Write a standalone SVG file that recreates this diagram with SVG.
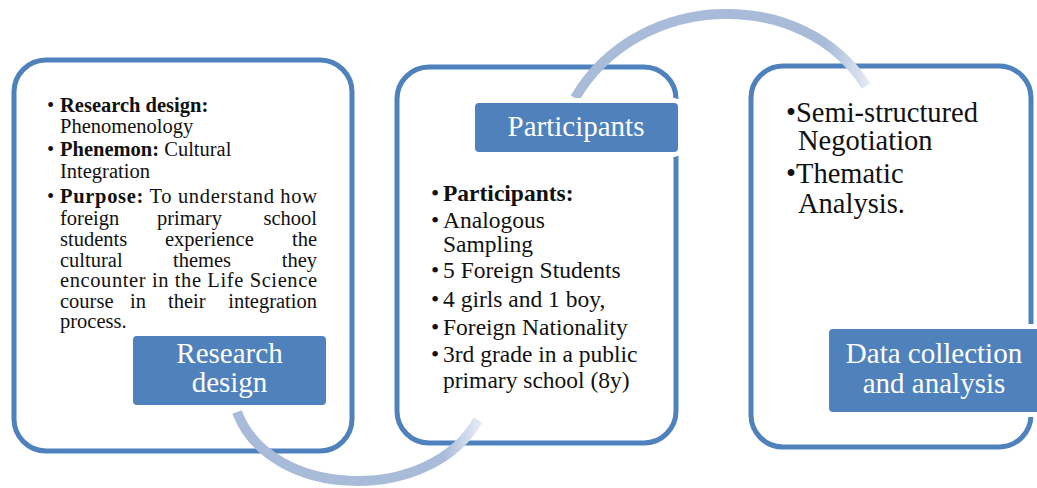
<svg xmlns="http://www.w3.org/2000/svg" width="1037" height="488" viewBox="0 0 1037 488">
  <style>
    .frame { fill: none; stroke: #4f81bd; stroke-width: 5; }
    .tag { fill: #4f81bd; stroke: #ffffff; stroke-width: 10; paint-order: stroke; }
    .tagtxt { font-family: "Liberation Serif", "Times New Roman", serif; font-size: 29px; fill: #ffffff; text-anchor: middle; }
    .body { font-family: "Liberation Serif", "Times New Roman", serif; fill: #111111; }
    .b { font-weight: bold; }
    .arc { fill: none; stroke-width: 10; stroke-linecap: butt; }
  </style>
  <defs>
    <linearGradient id="fadeTop" gradientUnits="userSpaceOnUse" x1="575" y1="0" x2="870" y2="0">
      <stop offset="0" stop-color="#a8bbd9"/>
      <stop offset="0.85" stop-color="#a8bbd9"/>
      <stop offset="1" stop-color="#e6ecf5"/>
    </linearGradient>
    <linearGradient id="fadeBottom" gradientUnits="userSpaceOnUse" x1="237" y1="0" x2="480" y2="0">
      <stop offset="0" stop-color="#a8bbd9"/>
      <stop offset="0.85" stop-color="#a8bbd9"/>
      <stop offset="1" stop-color="#e6ecf5"/>
    </linearGradient>
  </defs>

  <rect width="1037" height="488" fill="#ffffff"/>

  <!-- outlined panels -->
  <g id="panel-research-design">
    <rect class="frame" x="14" y="60" width="338" height="391" rx="32" ry="32"/>
    <g class="body" font-size="20.5">
      <text x="47" y="112">•</text>
      <text x="60" y="112" class="b">Research design:</text>
      <text x="60" y="133">Phenomenology</text>
      <text x="47" y="156">•</text>
      <text x="60" y="156"><tspan class="b">Phenemon:</tspan> Cultural</text>
      <text x="60" y="178">Integration</text>
      <text x="47" y="203">•</text>
      <text x="60" y="203" textLength="257" lengthAdjust="spacing"><tspan class="b">Purpose:</tspan> To understand how</text>
      <text x="60" y="225">foreign</text>
      <text x="157" y="225">primary</text>
      <text x="317" y="225" text-anchor="end">school</text>
      <text x="60" y="246">students</text>
      <text x="165" y="246">experience</text>
      <text x="317" y="246" text-anchor="end">the</text>
      <text x="60" y="267">cultural</text>
      <text x="173" y="267">themes</text>
      <text x="317" y="267" text-anchor="end">they</text>
      <text x="60" y="287" textLength="257" lengthAdjust="spacing">encounter in the Life Science</text>
      <text x="60" y="308">course</text>
      <text x="130" y="308">in</text>
      <text x="168" y="308">their</text>
      <text x="317" y="308" text-anchor="end">integration</text>
      <text x="60" y="328">process.</text>
    </g>
  </g>

  <g id="panel-participants">
    <rect class="frame" x="397" y="67" width="279" height="376" rx="32" ry="32"/>
    <g class="body" font-size="23.5">
      <text x="431" y="201">•</text>
      <text x="443" y="201" class="b">Participants:</text>
      <text x="431" y="228">•</text>
      <text x="443" y="228">Analogous</text>
      <text x="443" y="252">Sampling</text>
      <text x="431" y="278">•</text>
      <text x="443" y="278">5 Foreign Students</text>
      <text x="431" y="307">•</text>
      <text x="443" y="307">4 girls and 1 boy,</text>
      <text x="431" y="335">•</text>
      <text x="443" y="335">Foreign Nationality</text>
      <text x="431" y="362">•</text>
      <text x="443" y="362">3rd grade in a public</text>
      <text x="443" y="388">primary school (8y)</text>
    </g>
  </g>

  <g id="panel-data">
    <rect class="frame" x="751" y="66" width="280" height="381" rx="32" ry="32"/>
    <g class="body" font-size="28.5">
      <text x="786" y="122">•Semi-structured</text>
      <text x="798" y="150">Negotiation</text>
      <text x="786" y="183">•Thematic</text>
      <text x="798" y="213">Analysis.</text>
    </g>
  </g>

  <!-- curved connectors between panels -->
  <g id="connectors">
    <path class="arc" stroke="url(#fadeBottom)" d="M237,412 C270,500 430,505 478,420"/>
    <path class="arc" stroke="url(#fadeTop)" d="M575,98 C640,-12 805,-12 866,86"/>
  </g>

  <!-- title tags -->
  <g id="tag-research-design">
    <rect class="tag" x="133" y="336" width="193" height="69" rx="4" ry="4"/>
    <text class="tagtxt" x="229.5" y="363">Research</text>
    <text class="tagtxt" x="229.5" y="392">design</text>
  </g>

  <g id="tag-participants">
    <rect class="tag" x="475" y="103" width="203" height="49" rx="4" ry="4"/>
    <text class="tagtxt" x="576" y="136">Participants</text>
  </g>

  <g id="tag-data">
    <rect class="tag" x="829" y="329" width="212" height="83" rx="4" ry="4"/>
    <text class="tagtxt" x="934" y="363" font-size="28">Data collection</text>
    <text class="tagtxt" x="934" y="393" font-size="28">and analysis</text>
  </g>
</svg>
